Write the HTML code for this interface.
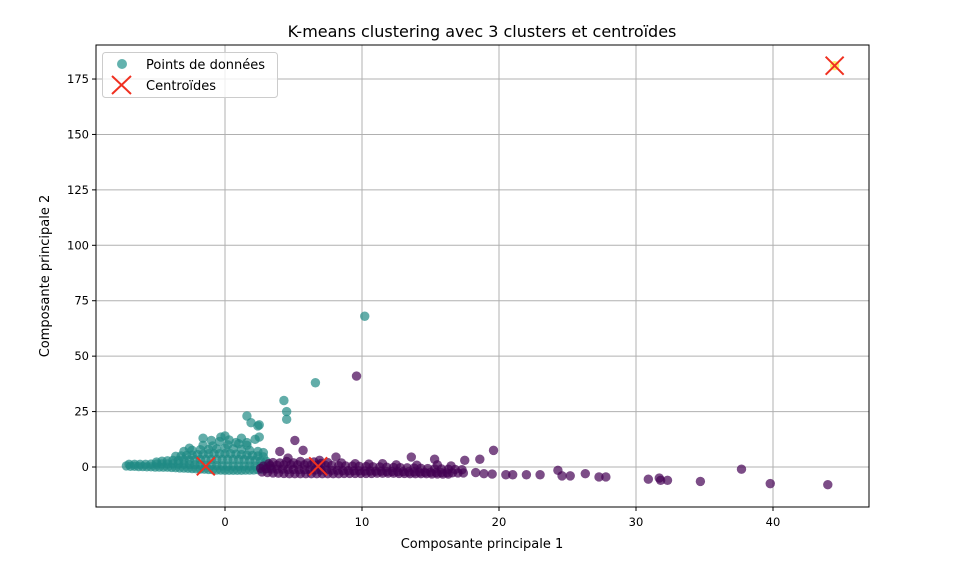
<!DOCTYPE html>
<html><head><meta charset="utf-8">
<style>
html,body{margin:0;padding:0;background:#fff;}
svg{display:block;font-family:"DejaVu Sans","Liberation Sans",sans-serif;}
</style></head>
<body>
<svg id="chart" width="958" height="586" viewBox="0 0 958 586">
<rect x="0" y="0" width="958" height="586" fill="#fff"/>
<text x="482" y="37" text-anchor="middle" font-size="16" fill="#000">K-means clustering avec 3 clusters et centroïdes</text>
<g id="grid"></g>
<g id="points" clip-path="url(#clip)"></g>
<clipPath id="clip"><rect x="96" y="45" width="773" height="462"/></clipPath>
<rect x="96" y="45" width="773" height="462" fill="none" stroke="#000" stroke-width="1"/>
<g id="ticks"></g>
<text x="482" y="548" text-anchor="middle" font-size="13">Composante principale 1</text>
<text x="49" y="276" text-anchor="middle" font-size="13" transform="rotate(-90 49 276)">Composante principale 2</text>
<g>
<rect x="102.5" y="52.5" width="175" height="45" rx="3" fill="#fff" fill-opacity="0.8" stroke="#ccc"/>
<circle cx="122" cy="64" r="5" fill="#21918c" fill-opacity="0.7"/>
<text x="146" y="69" font-size="13">Points de données</text>
<path d="M112 76 L131 94 M131 76 L112 94" stroke="#f03020" stroke-width="2"/>
<text x="146" y="90" font-size="13">Centroïdes</text>
</g>
</svg>
<script>
const xTicks=[0,10,20,30,40];
const yTicks=[0,25,50,75,100,125,150,175];
const tealPoints=[
[-7.2,0.5],[-6.9,0.3],[-6.6,0.3],[-6.3,0.2],[-6.0,0.2],[-5.7,0.1],[-5.4,0.1],[-5.1,0.0],[-4.8,0.0],[-4.5,-0.1],[-4.2,-0.1],[-3.9,-0.2],[-3.6,-0.3],[-3.3,-0.4],[-3.0,-0.5],[-2.7,-0.6],[-2.4,-0.7],[-2.1,-0.8],[-1.8,-0.9],[-1.5,-1.0],[-1.2,-1.1],[-0.9,-1.2],[-0.6,-1.3],[-0.3,-1.4],[0.0,-1.5],[0.3,-1.5],[0.6,-1.5],[0.9,-1.5],[1.2,-1.5],[1.5,-1.4],[1.8,-1.4],[2.1,-1.3],[2.4,-1.2],[2.7,-1.0],[3.0,-0.8],[3.3,-0.5],
[-7.0,1.2],[-6.6,1.2],[-6.2,1.2],[-5.8,1.2],[-5.4,1.3],[-5.0,1.3],[-4.6,1.4],[-4.2,1.4],[-3.8,1.4],[-3.4,1.3],[-3.0,1.2],[-2.6,1.1],[-2.2,1.0],[-1.8,0.9],[-1.4,0.8],[-1.0,0.7],[-0.6,0.6],[-0.2,0.5],[0.2,0.4],[0.6,0.4],[1.0,0.4],[1.4,0.4],[1.8,0.4],[2.2,0.4],[2.6,0.5],[3.0,0.8],
[-5.0,2.2],[-4.6,2.6],[-4.2,2.8],[-3.8,3.0],[-3.4,3.0],[-3.0,3.2],[-2.6,3.2],[-2.2,3.3],[-1.8,3.4],[-1.4,3.4],[-1.0,3.4],[-0.6,3.4],[-0.2,3.4],[0.2,3.4],[0.6,3.4],[1.0,3.4],[1.4,3.3],[1.8,3.2],[2.2,3.0],[2.6,2.8],[3.0,2.6],
[-3.6,4.8],[-3.2,5.0],[-2.8,5.2],[-2.4,5.4],[-2.0,5.6],[-1.6,5.8],[-1.2,6.0],[-0.8,6.0],[-0.4,6.0],[0.0,6.0],[0.4,6.0],[0.8,5.8],[1.2,5.6],[1.6,5.4],[2.0,5.2],[2.4,5.0],[2.8,4.6],
[-3.0,7.0],[-2.4,7.5],[-1.8,7.8],[-1.2,8.0],[-0.6,8.2],[0.0,8.5],[0.6,8.2],[1.2,8.0],[1.8,7.5],[2.4,7.0],[-2.6,8.5],[-1.6,9.8],[-0.9,9.5],[0.2,10.0],[1.0,10.5],[1.6,9.8],[-0.4,11.5],[0.8,11.0],[0.3,12.2],
[10.2,68],[6.6,38],[4.3,30],[4.5,25],[4.5,21.5],[1.6,23],[1.9,20],[2.4,18.5],[2.5,19],[2.5,13.5],[-1.6,13],[-0.3,13.5],[0.0,14],[1.2,13],[1.6,11],[-1.0,12],[2.2,12.5],[2.8,6.5]];
const purplePoints=[
[2.6,-0.6],[3.0,-0.8],[3.4,-0.9],[3.8,-1.0],[4.2,-1.0],[4.6,-1.1],[5.0,-1.1],[5.4,-1.2],[5.8,-1.2],[6.2,-1.3],[6.6,-1.3],[7.0,-1.4],[7.4,-1.4],[7.8,-1.5],[8.2,-1.5],[8.6,-1.6],[9.0,-1.6],[9.4,-1.7],[9.8,-1.7],[10.2,-1.8],[10.6,-1.8],[11.0,-1.9],[11.4,-1.9],[11.8,-2.0],[12.2,-2.0],[12.6,-2.1],[13.0,-2.1],[13.4,-2.2],[13.8,-2.2],[14.2,-2.3],[14.6,-2.4],[15.0,-2.4],[15.4,-2.5],[15.8,-2.5],[16.2,-2.6],[16.6,-2.6],[17.0,-2.7],[17.4,-2.7],
[2.7,-2.2],[3.1,-2.5],[3.5,-2.7],[3.9,-2.8],[4.3,-2.9],[4.7,-3.0],[5.1,-3.0],[5.5,-3.0],[5.9,-3.0],[6.3,-3.0],[6.7,-3.0],[7.1,-3.0],[7.5,-3.0],[7.9,-3.0],[8.3,-3.0],[8.7,-2.9],[9.1,-2.9],[9.5,-2.9],[9.9,-2.9],[10.3,-2.9],[10.7,-2.9],[11.1,-2.8],[11.5,-2.8],[11.9,-2.8],[12.3,-2.8],[12.7,-2.9],[13.1,-2.9],[13.5,-3.0],[13.9,-3.0],[14.3,-3.0],[14.7,-3.0],[15.1,-3.1],[15.5,-3.1],[15.9,-3.2],[16.3,-3.2],
[2.8,0.4],[3.3,0.6],[3.8,0.8],[4.3,0.9],[4.8,1.0],[5.3,1.0],[5.8,1.0],[6.3,1.0],[6.8,0.9],[7.3,0.8],[7.8,0.7],[8.3,0.6],[8.8,0.5],[9.3,0.4],[9.8,0.3],[10.3,0.2],[10.8,0.1],[11.3,0.0],[11.8,-0.1],[12.3,-0.2],[12.8,-0.3],[13.3,-0.4],[13.8,-0.5],[14.3,-0.6],[14.8,-0.7],[15.3,-0.8],[15.8,-0.9],[16.3,-1.0],[16.8,-1.1],[17.3,-1.2],
[3.5,2.0],[4.5,2.5],[5.5,2.5],[6.5,2.3],[7.5,2.0],[8.5,1.8],[9.5,1.5],[10.5,1.3],[11.5,1.5],[12.5,1.0],[14.0,0.8],[15.5,1.0],[16.5,0.5],[3.2,1.5],[4.0,1.8],[5.0,1.9],[6.0,1.8],[7.0,1.6],
[9.6,41],[5.1,12],[5.7,7.5],[4.0,7],[8.1,4.5],[4.6,4],[6.9,3],[13.6,4.5],[15.3,3.5],[17.5,3],[18.6,3.5],[19.6,7.5],[18.3,-2.5],[18.9,-3],[19.5,-3.2],[20.5,-3.5],[21.0,-3.5],[22.0,-3.5],[23.0,-3.5],[24.3,-1.5],[24.6,-4],[25.2,-4],[26.3,-3],[27.3,-4.5],[27.8,-4.5],[30.9,-5.5],[31.7,-5],[31.8,-6],[32.3,-6],[34.7,-6.5],[37.7,-1],[39.8,-7.5],[44.0,-8]];
const yellowPoints=[[44.5,181]];
const centroids=[[-1.4,0.3],[6.8,0.3],[44.5,181]];

const X0=225,XS=13.7,Y0=467,YS=2.217;
function sx(v){return X0+XS*v;}
function sy(v){return Y0-YS*v;}
const NS='http://www.w3.org/2000/svg';
function mk(tag,attrs,parent){const e=document.createElementNS(NS,tag);for(const k in attrs)e.setAttribute(k,attrs[k]);parent.appendChild(e);return e;}
const grid=document.getElementById('grid'),ticks=document.getElementById('ticks'),pts=document.getElementById('points');
xTicks.forEach(t=>{
 const x=sx(t);
 const g=mk('line',{x1:x,x2:x,y1:45,y2:507,stroke:'#b0b0b0','stroke-width':1},grid);
 
 
 mk('line',{x1:x,x2:x,y1:507,y2:511,stroke:'#000'},ticks);
 const tx=mk('text',{x:x,y:526,'text-anchor':'middle','font-size':11.5},ticks);
 tx.textContent=t;
 
 
});
yTicks.forEach(t=>{
 const y=sy(t);
 const g=mk('line',{x1:96,x2:869,y1:y,y2:y,stroke:'#b0b0b0','stroke-width':1},grid);
 
 
 mk('line',{x1:92,x2:96,y1:y,y2:y,stroke:'#000'},ticks);
 const tx=mk('text',{x:89,y:y+4,'text-anchor':'end','font-size':11.5},ticks);
 tx.textContent=t;
 
 
});
function drawSet(arr,color,name){
 arr.forEach(p=>{
  const c=mk('circle',{cx:sx(p[0]),cy:sy(p[1]),r:4.7,fill:color,'fill-opacity':0.7},pts);
  
  
 });
}
drawSet(tealPoints,'#1f8a85','teal-point');
drawSet(purplePoints,'#440154','purple-point');
drawSet(yellowPoints,'#fde725','yellow-point');
centroids.forEach(p=>{
 const x=sx(p[0]),y=sy(p[1]),d=9;
 const c=mk('path',{d:`M${x-d} ${y-d} L${x+d} ${y+d} M${x+d} ${y-d} L${x-d} ${y+d}`,stroke:'#f03020','stroke-width':2},pts);
 
 
});
</script>
</body></html>
